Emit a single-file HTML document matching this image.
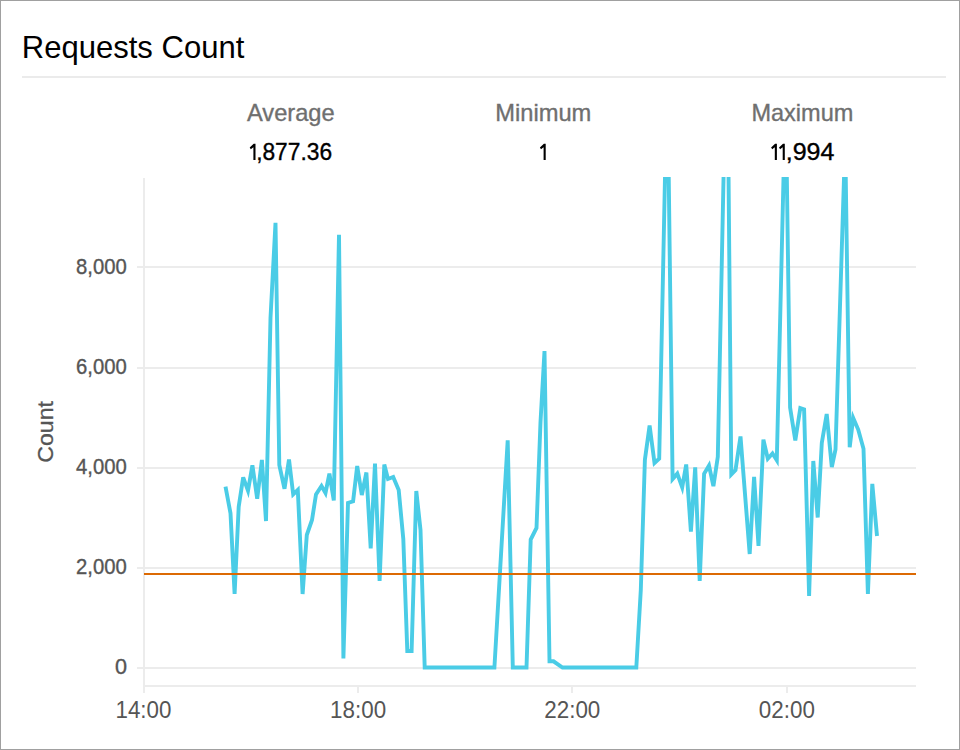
<!DOCTYPE html>
<html><head><meta charset="utf-8">
<style>
html,body{margin:0;padding:0;background:#fff;}
body{width:960px;height:750px;overflow:hidden;position:relative;}
svg{position:absolute;left:0;top:0;}
text{font-family:"Liberation Sans",sans-serif;}
</style></head><body>
<svg width="960" height="750" viewBox="0 0 960 750">
<rect x="0.5" y="0.5" width="959" height="749" fill="#fff" stroke="#a0a0a0" stroke-width="1"/>
<text x="21.72" y="57.7" font-size="31.16" textLength="222.57" lengthAdjust="spacingAndGlyphs" fill="#000">Requests Count</text>
<line x1="22" y1="77" x2="946" y2="77" stroke="#e4e4e4" stroke-width="1.4"/>
<text x="246.98" y="120.7" font-size="23.8" textLength="87.67" lengthAdjust="spacingAndGlyphs" fill="#6f6f6f" stroke="#6f6f6f" stroke-width="0.35">Average</text>
<path d="M253.4 143.7H255.5V159.9H253.4V147.2L250.8 149.2 249.7 147.6 253.7 143.7Z" fill="#000"/>
<text x="256.14" y="160" font-size="23.9" textLength="75.97" lengthAdjust="spacingAndGlyphs" fill="#000" stroke="#000" stroke-width="0.35">,877.36</text>
<text x="495.2" y="120.7" font-size="23.8" textLength="96.15" lengthAdjust="spacingAndGlyphs" fill="#6f6f6f" stroke="#6f6f6f" stroke-width="0.35">Minimum</text>
<path d="M543.6 143.7H545.7V159.9H543.6V147.2L541.0 149.2 539.9 147.6 543.9 143.7Z" fill="#000"/>
<text x="751.42" y="120.7" font-size="23.8" textLength="101.89" lengthAdjust="spacingAndGlyphs" fill="#6f6f6f" stroke="#6f6f6f" stroke-width="0.35">Maximum</text>
<path d="M774.8 143.7H776.9V159.9H774.8V147.2L772.2 149.2 771.1 147.6 775.1 143.7Z" fill="#000"/><path d="M782.7 143.7H784.8V159.9H782.7V147.2L780.1 149.2 779.0 147.6 783.0 143.7Z" fill="#000"/>
<text x="785.72" y="160" font-size="23.9" textLength="48.66" lengthAdjust="spacingAndGlyphs" fill="#000" stroke="#000" stroke-width="0.35">,994</text>
<g fill="#ececec">
<rect x="137" y="266" width="779" height="2"/>
<rect x="137" y="367" width="779" height="2"/>
<rect x="137" y="467" width="779" height="2"/>
<rect x="137" y="567" width="779" height="2"/>
<rect x="137" y="667" width="779" height="2"/>
<rect x="143" y="178" width="2" height="515"/>
<rect x="143" y="685" width="773" height="2"/>
<rect x="357" y="685" width="2" height="8"/>
<rect x="571" y="685" width="2" height="8"/>
<rect x="786" y="685" width="2" height="8"/>
</g>
<text x="76.04" y="273.6" font-size="21.6" textLength="50.7" lengthAdjust="spacingAndGlyphs" fill="#555" stroke="#555" stroke-width="0.35">8,000</text>
<text x="76.04" y="373.6" font-size="21.6" textLength="50.7" lengthAdjust="spacingAndGlyphs" fill="#555" stroke="#555" stroke-width="0.35">6,000</text>
<text x="76.04" y="473.6" font-size="21.6" textLength="50.7" lengthAdjust="spacingAndGlyphs" fill="#555" stroke="#555" stroke-width="0.35">4,000</text>
<text x="76.04" y="573.6" font-size="21.6" textLength="50.7" lengthAdjust="spacingAndGlyphs" fill="#555" stroke="#555" stroke-width="0.35">2,000</text>
<text x="126.972" y="673.6" font-size="21.6" fill="#555" stroke="#555" stroke-width="0.35" text-anchor="end">0</text>
<text x="115.52" y="717.76" font-size="23.66" textLength="55.91" lengthAdjust="spacingAndGlyphs" fill="#555">14:00</text>
<text x="330.12" y="717.76" font-size="23.66" textLength="56.02" lengthAdjust="spacingAndGlyphs" fill="#555">18:00</text>
<text x="544.28" y="717.76" font-size="23.66" textLength="56.06" lengthAdjust="spacingAndGlyphs" fill="#555">22:00</text>
<text x="758.8" y="717.76" font-size="23.66" textLength="56.04" lengthAdjust="spacingAndGlyphs" fill="#555">02:00</text>
<text transform="translate(52.8,462.76) rotate(-90)" font-size="22" textLength="61.76" lengthAdjust="spacingAndGlyphs" fill="#555" stroke="#555" stroke-width="0.3">Count</text>
<defs><clipPath id="c"><rect x="144" y="177" width="772" height="520"/></clipPath></defs>
<polyline clip-path="url(#c)" points="225.5,486.7 230.5,513.3 234.6,594.0 238.7,506.7 243.2,477.3 248.0,490.7 252.4,465.3 257.2,498.7 261.9,460.0 266.0,521.0 270.5,318.0 275.5,222.8 279.3,465.0 284.5,488.8 289.0,459.5 293.2,494.4 297.8,489.9 302.6,594.0 306.8,535.0 312.0,520.0 316.0,494.4 321.5,486.0 325.5,493.0 329.4,473.6 333.8,500.5 339.0,234.8 343.4,658.5 348.0,503.0 353.1,501.3 357.2,466.0 361.8,495.0 366.4,472.5 370.7,548.5 375.0,463.5 379.6,581.0 384.3,464.6 388.0,479.0 393.2,477.0 398.7,490.0 403.3,539.0 407.3,651.0 411.6,651.0 416.3,491.0 420.5,530.0 424.7,667.5 494.4,667.5 507.7,440.3 512.8,667.5 526.5,667.5 530.7,539.5 536.5,528.0 540.5,422.0 544.5,351.0 549.5,661.3 553.5,661.3 562.5,667.5 636.3,667.5 640.8,590.0 644.9,459.7 649.6,425.6 654.5,463.0 659.2,458.6 667.3,65.0 672.6,479.0 677.3,473.6 682.2,487.4 686.2,464.5 690.9,531.5 695.2,467.3 699.7,581.0 704.1,473.8 709.0,465.6 713.4,486.2 717.8,456.8 727.0,9.0 731.3,474.4 735.5,470.0 740.5,436.5 749.7,554.0 754.1,476.8 758.5,546.0 763.4,439.6 767.8,458.7 772.5,453.4 776.8,460.2 785.6,90.0 790.1,407.5 795.3,440.5 800.3,408.0 804.1,409.3 809.1,596.0 813.3,461.0 817.7,517.5 821.8,443.0 826.7,414.0 831.8,467.0 835.5,449.5 845.2,140.0 849.7,447.3 853.2,418.0 858.2,429.6 863.5,448.7 867.9,594.0 872.3,483.8 877.0,536.0" fill="none" stroke="#4acce6" stroke-width="3.9" stroke-linejoin="miter" stroke-miterlimit="4"/>
<line x1="144" y1="573.9" x2="916" y2="573.9" stroke="#dc6a04" stroke-width="2"/>
</svg>
</body></html>
